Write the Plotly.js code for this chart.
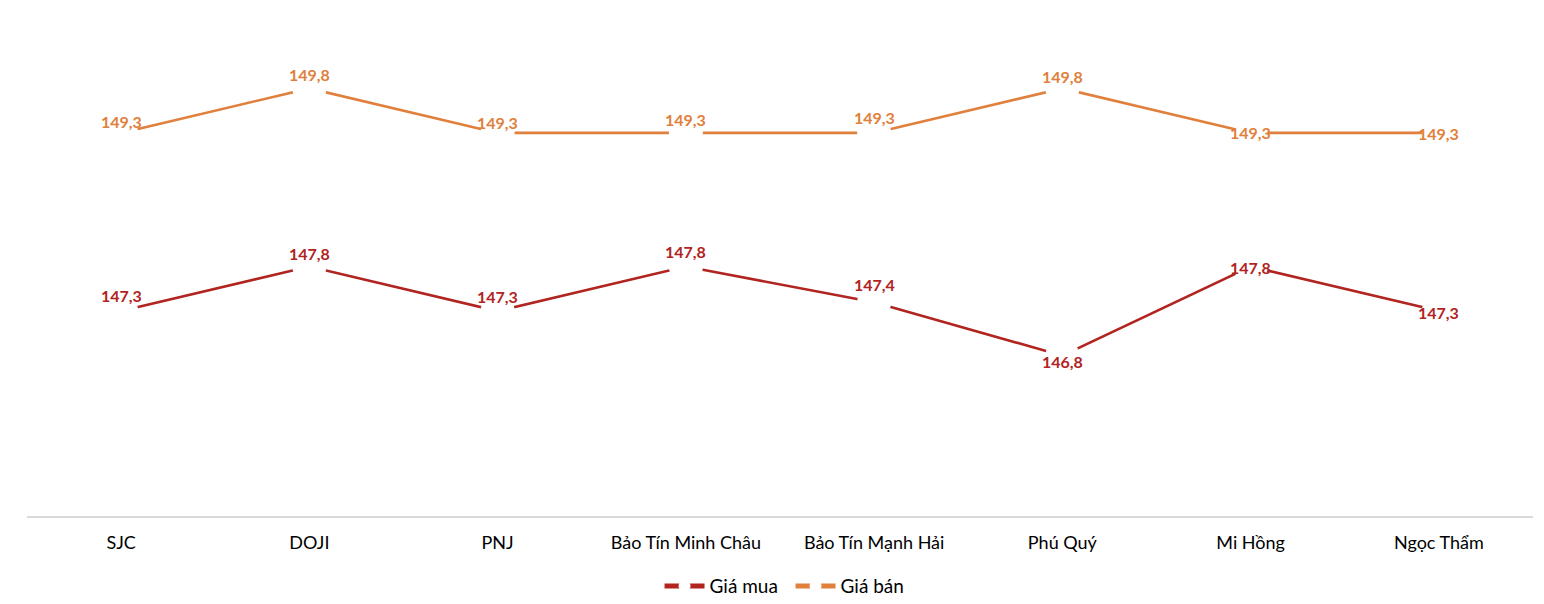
<!DOCTYPE html>
<html>
<head>
<meta charset="utf-8">
<script src="https://cdn.plot.ly/plotly-3.0.1.min.js"></script>
<style>
  html, body { margin: 0; padding: 0; background: #fff; }
  #chart { width: 1544px; height: 604px; }
</style>
</head>
<body>
<div id="chart"></div>
<script>
const categories = ['SJC', 'DOJI', 'PNJ', 'Bảo Tín Minh Châu', 'Bảo Tín Mạnh Hải', 'Phú Quý', 'Mi Hồng', 'Ngọc Thẩm'];
const giaMua = [147.3, 147.8, 147.3, 147.8, 147.4, 146.8, 147.8, 147.3];
const giaBan = [149.3, 149.8, 149.3, 149.3, 149.3, 149.8, 149.3, 149.3];

// label offsets in px above (+) or below (-) the point, as Excel placed them
const muaLabelShift = [16, 13, 15, 15, 18, -6, -1, -1];
const banLabelShift = [11, 14, 10, 13, 15, 12, 0, -1];

const RED = '#B1241F';
const ORANGE = '#E0803C';
const FONT = 'Lato, "Open Sans", sans-serif';

const fmt = v => v.toFixed(1).replace('.', ',');

function lineTrace(name, values, color) {
    return {
        x: categories,
        y: values,
        name: name,
        type: 'scatter',
        mode: 'lines+markers',
        line: { color: color, width: 2.6 },
        // white markers leave the small gap round each point, like the Excel chart
        marker: { color: '#ffffff', size: 34, line: { width: 0 } },
        cliponaxis: false,
        hoverinfo: 'skip'
    };
}

function labels(values, shifts, color) {
    return values.map((v, i) => ({
        x: categories[i],
        y: v,
        xref: 'x',
        yref: 'y',
        text: fmt(v),
        showarrow: false,
        yshift: shifts[i],
        font: { family: FONT, size: 16, color: color, weight: 'bold' }
    }));
}

const layout = {
    width: 1544,
    height: 604,
    margin: { l: 27, r: 11, t: 26, b: 88, autoexpand: false },
    paper_bgcolor: '#ffffff',
    plot_bgcolor: '#ffffff',
    showlegend: true,
    hovermode: false,
    font: { family: FONT, color: '#000000' },
    xaxis: {
        type: 'category',
        range: [-0.5, 7.5],
        showline: true,
        linecolor: '#d9d9d9',
        linewidth: 1.5,
        showgrid: false,
        zeroline: false,
        ticks: '',
        ticklabelstandoff: 10,
        tickfont: { family: FONT, size: 18, color: '#000000' },
        automargin: false,
        fixedrange: true
    },
    yaxis: {
        range: [145, 150.5],
        visible: false,
        showgrid: false,
        zeroline: false,
        automargin: false,
        fixedrange: true
    },
    legend: {
        orientation: 'h',
        x: 0.507,
        xanchor: 'center',
        y: -0.143,
        yanchor: 'middle',
        itemsizing: 'constant',
        itemwidth: 40,
        entrywidth: 76,
        font: { family: FONT, size: 19, color: '#000000' },
        traceorder: 'normal'
    },
    annotations: labels(giaMua, muaLabelShift, RED).concat(labels(giaBan, banLabelShift, ORANGE))
};

Plotly.newPlot('chart', [
    lineTrace('Giá mua', giaMua, RED),
    lineTrace('Giá bán', giaBan, ORANGE)
], layout, { displayModeBar: false, staticPlot: true });
</script>
</body>
</html>
